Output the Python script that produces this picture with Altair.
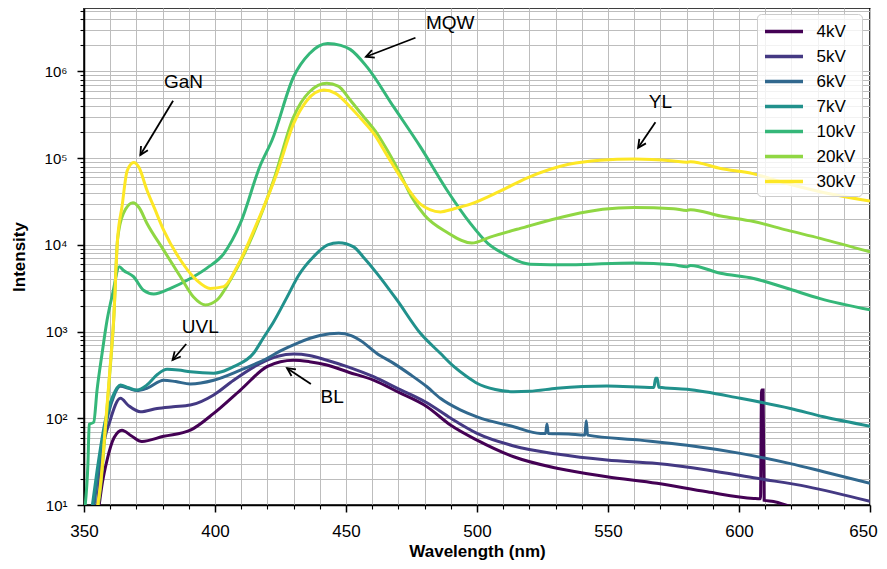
import math
import altair as alt
import pandas as pd

# ---------------- data ----------------
series_names = ["4kV", "5kV", "6kV", "7kV", "10kV", "20kV", "30kV"]
series_colors = ["#440154", "#443983", "#31688e", "#21918c", "#35b779", "#90d743", "#fde725"]

wl_4 = [355.6, 357, 358.8, 361.5, 364.5, 368, 372.1, 380.4, 390.6, 399.5, 409.7, 419.8, 425, 430, 436,
        442.7, 451, 460.5, 470, 480.9, 490, 500, 514, 530.5, 549.6, 568.7, 587.8, 605.6, 608.2, 608.6,
        609.2, 609.6, 613.2, 620, 635, 650]
int_4 = [9, 18, 33, 60, 73, 63, 54, 62, 73, 114, 212, 394, 450, 468, 450,
         412, 340, 275, 200, 136, 83, 56, 36, 26.5, 21.2, 17.8, 14.2, 11.9, 11.8, 212,
         212, 11.3, 11, 9.5, 8, 7]

wl_5 = [355, 357, 360, 363.9, 367, 371.5, 377.9, 384, 390.6, 399.5, 407.1, 417.3, 424, 430, 436, 442.7,
        451, 460.5, 470, 480.9, 490, 500, 514, 530.5, 549.6, 568.7, 587.8, 606.9, 626, 650]
int_5 = [9, 40, 95, 170, 140, 119, 130, 136, 142, 186, 275, 430, 520, 550, 530, 468,
         390, 302, 219, 151, 100, 67, 48, 38.7, 33, 30.2, 25.4, 20.3, 16.3, 11]

wl_6 = [353.7, 355.5, 357.5, 361.3, 363.9, 367, 370.2, 374, 380.4, 385, 390.6, 399.5, 409.7, 419.8, 425,
        431.3, 440, 447.2, 452, 455.5, 461.8, 468.2, 474.5, 480.9, 486, 493.6, 500, 514, 524.2, 526.2,
        526.7, 527.2, 535, 541.2, 541.7, 542.2, 562.3, 580.2, 600.5, 619.6, 632.3, 650]
int_6 = [9, 25, 62, 178, 234, 222, 209, 222, 275, 265, 249, 275, 360, 490, 600,
         733, 900, 955, 900, 790, 560, 430, 320, 231, 170, 125, 104, 80, 67, 67,
         86, 67, 66, 64, 94, 64, 56, 49, 39.4, 30, 24.2, 17.8]

wl_7 = [353, 355, 358, 361, 363.9, 367, 370.2, 374, 378, 381.7, 386, 390.6, 399.5, 402.5, 407.1, 414.7,
        418.5, 422.4, 427.5, 432, 437.6, 443, 447.2, 452.9, 457, 461.8, 469.5, 478.4, 486, 491, 496.2,
        500, 507, 514, 520, 530.5, 549.6, 567.5, 568.2, 568.8, 569.4, 580.2, 600.5, 619.6, 632.3, 650]
int_7 = [9, 25, 90, 180, 242, 225, 212, 242, 320, 367, 360, 344, 331, 344, 394, 562,
         850, 1300, 2500, 4500, 7300, 10000, 10600, 9500, 7000, 4700, 2300, 955, 562, 400, 302,
         254, 215, 203, 205, 222, 236, 227, 290, 290, 228, 216, 170, 130, 104, 81]

wl_10 = [350.3, 351.5, 352, 353.7, 355, 356.9, 358.8, 361, 363.5, 365, 368.9, 372.7, 376.6, 383, 390.6,
         396.9, 403.3, 409.7, 417.3, 421.8, 430, 436, 443, 448, 451.6, 458, 468.2, 478.4, 488.5, 497.4,
         504, 510.2, 520.3, 535.5, 559.8, 575, 580, 581.5, 592.9, 605.6, 618.3, 631, 650]
int_10 = [9, 30, 85, 90, 214, 560, 1350, 2800, 5600, 5100, 4300, 3000, 2720, 3160, 4100,
          5400, 7900, 17800, 83000, 162000, 870000, 1600000, 2100000, 2000000, 1800000, 1130000, 390000,
          135000, 43000, 17800,
          10500, 7900, 6000, 5900, 6200, 5900, 5600, 5800, 4700, 4100, 3160, 2400, 1780]

wl_20 = [355, 356.5, 358, 360, 361.3, 362.8, 365, 368.7, 371, 374, 380.4, 386.8, 391.8, 396.3, 400.8,
         405.8, 414.7, 422.4, 430, 436, 442.7, 447, 451.6, 456, 461.8, 466, 470.7, 475, 480, 488.5, 498,
         505, 516.5, 535.5, 548, 560, 575, 580, 581.5, 593, 605.6, 618.3, 631, 650]
int_20 = [8, 18, 65, 380, 1300, 11500, 23000, 30700, 27000, 17800, 8700, 4300, 2500, 2030, 2320,
          3900, 13600, 56000, 300000, 580000, 730000, 680000, 470000, 320000, 194000, 120000, 66000,
          36000, 22000, 14000, 10500,
          12300, 15500, 22000, 25700, 27000, 26200, 25000, 25500, 21500, 18600, 14800, 11900, 8300]

wl_30 = [355, 356.5, 358, 360, 361.3, 362.8, 364.5, 366.5, 369, 371, 374, 377, 380.4, 386.8, 393.1,
         398.2, 403.3, 408.4, 416, 423.7, 430, 435, 441.5, 446, 451.6, 456, 460.5, 465.5, 470.7, 478.4,
         482, 486, 491, 497.5, 509, 519, 535, 547, 560, 575, 580, 581.5, 593, 605.6, 618.3, 631, 650]
int_30 = [9, 20, 70, 400, 1350, 11500, 27500, 72000, 89000, 78000, 43000, 26000, 14800, 6700, 3900,
          3150, 3300, 5600, 17800, 68000, 250000, 460000, 610000, 560000, 390000, 280000, 194000, 110000,
          61000, 29500,
          25500, 24000, 26000, 29500, 42000, 59000, 85000, 95000, 98000, 93000, 90000, 91000, 76000,
          66000, 51000, 41000, 32000]

series_wl = [wl_4, wl_5, wl_6, wl_7, wl_10, wl_20, wl_30]
series_int = [int_4, int_5, int_6, int_7, int_10, int_20, int_30]

# annotations: label, text position, arrow tail, arrow head (wavelength, intensity)
ann_labels = ["GaN", "MQW", "YL", "UVL", "BL"]
ann_text_wl = [388.0, 489.8, 570.0, 394.4, 444.7]
ann_text_int = [7.6e5, 3.6e6, 4.4e5, 1140, 175]
ann_tail_wl = [384.0, 476.5, 568.1, 389.0, 436.6]
ann_tail_int = [4.6e5, 2.45e6, 2.6e5, 720, 249]
ann_head_wl = [371.5, 457.6, 561.5, 383.8, 427.5]
ann_head_int = [1.09e5, 1.48e6, 1.32e5, 470, 378]

# ---------------- layout ----------------
W, H = 786, 497
X_MIN, X_MAX = 350, 650
Y_MIN, Y_MAX = 10, 5.4e6
FONT = "Liberation Sans"

rows = []
for name, wls, ints in zip(series_names, series_wl, series_int):
    for w, v in zip(wls, ints):
        rows.append({"wavelength": w, "intensity": v, "series": name})
df = pd.DataFrame(rows)


def px(wl, inten):
    x = (wl - X_MIN) / (X_MAX - X_MIN) * W
    y = H * (1 - (math.log10(inten) - math.log10(Y_MIN)) / (math.log10(Y_MAX) - math.log10(Y_MIN)))
    return x, y


angles = []
for tw, ti, hw, hi in zip(ann_tail_wl, ann_tail_int, ann_head_wl, ann_head_int):
    x1, y1 = px(tw, ti)
    x2, y2 = px(hw, hi)
    a = math.degrees(math.atan2(x2 - x1, -(y2 - y1))) % 360
    angles.append(a)

text_df = pd.DataFrame({"wavelength": ann_text_wl, "intensity": ann_text_int, "label": ann_labels})
arrow_df = pd.DataFrame({"wavelength": ann_tail_wl, "intensity": ann_tail_int,
                         "wl_head": ann_head_wl, "int_head": ann_head_int})
head_df = pd.DataFrame({"wavelength": ann_head_wl, "intensity": ann_head_int, "angle": angles})

x_vals = list(range(350, 651, 10))
y_vals = [m * 10 ** k for k in range(1, 7) for m in range(1, 10) if m * 10 ** k <= Y_MAX]

is_dec = "abs(log(datum.value)/LN10 - round(log(datum.value)/LN10)) < 0.001"
sup = "['\u2070','\u00b9','\u00b2','\u00b3','\u2074','\u2075','\u2076','\u2077','\u2078','\u2079'][round(log(datum.value)/LN10)]"

x_scale = alt.Scale(domain=[X_MIN, X_MAX], nice=False, zero=False)
y_scale = alt.Scale(type="log", domain=[Y_MIN, Y_MAX], nice=False)

x_axis = alt.Axis(
    values=x_vals, format="d", title="Wavelength (nm)",
    labelExpr="datum.value % 50 === 0 ? datum.label : ''",
    labelFlush=False, labelOverlap=False, labelFontSize=17, labelPadding=11,
    labelOffset={"condition": {"test": "datum.value >= 650", "value": -7}, "value": 0},
    labelColor="black", labelFont=FONT,
    tickSize={"condition": {"test": "datum.value % 50 === 0", "value": 7}, "value": 4},
    tickWidth={"condition": {"test": "datum.value % 50 === 0", "value": 1.5}, "value": 1.1},
    tickColor="black", domainColor="black", domainWidth=1.5,
    grid=True, gridColor="#bdbdbd", gridWidth=1,
    titleFontSize=17, titleFontWeight="bold", titleFont=FONT, titleColor="black",
    titleY=51, titleBaseline="alphabetic",
)
y_axis = alt.Axis(
    values=y_vals, title="Intensity",
    labelExpr=f"{is_dec} ? '10' + {sup} : ''",
    labelOverlap=False, labelFontSize=15, labelPadding=10, labelColor="black", labelFont=FONT,
    tickSize={"condition": {"test": is_dec, "value": 7}, "value": 4},
    tickWidth={"condition": {"test": is_dec, "value": 1.5}, "value": 1.1},
    tickColor="black", domainColor="black", domainWidth=1.5,
    grid=True, gridColor="#bdbdbd", gridWidth=1,
    titleFontSize=17, titleFontWeight="bold", titleFont=FONT, titleColor="black",
    titleX=-60, titleBaseline="alphabetic",
)

X = alt.X("wavelength:Q", scale=x_scale, axis=x_axis)
Y = alt.Y("intensity:Q", scale=y_scale, axis=y_axis)

lines = alt.Chart(df).mark_line(strokeWidth=3, clip=True, interpolate="monotone").encode(
    x=X, y=Y,
    color=alt.Color(
        "series:N",
        scale=alt.Scale(domain=series_names, range=series_colors),
        sort=series_names,
        legend=alt.Legend(
            title=None, orient="none", legendX=673, legendY=6,
            symbolType="M-2,0H2", symbolSize=361, symbolStrokeWidth=3.5, symbolOffset=9.5,
            labelFontSize=17, labelFont=FONT, labelColor="black", labelOffset=21,
            rowPadding=5, padding=6, strokeColor="#cccccc", cornerRadius=4,
            fillColor="rgba(255,255,255,0.8)",
        ),
    ),
    order=alt.Order("wavelength:Q"),
)

texts = alt.Chart(text_df).mark_text(
    fontSize=19, font=FONT, align="center", baseline="middle", color="black"
).encode(x=X, y=Y, text="label:N")

arrows = alt.Chart(arrow_df).mark_rule(color="black", strokeWidth=1.8).encode(
    x=X, y=Y, x2="wl_head:Q", y2="int_head:Q"
)

heads = alt.Chart(head_df).mark_point(
    shape="M-0.5,1L0,0L0.5,1", size=256, filled=False, color="black", strokeWidth=1.8, opacity=1
).encode(x=X, y=Y, angle=alt.Angle("angle:Q", scale=None))

chart = alt.layer(lines, arrows, heads, texts).properties(
    width=W, height=H,
    autosize=alt.AutoSizeParams(type="none"),
    padding={"left": 76, "top": 0, "right": 9, "bottom": 56},
    background="white",
).configure_view(stroke="black", strokeWidth=1.5)

chart.save("out.html", embed_options={"renderer": "svg", "actions": False})
